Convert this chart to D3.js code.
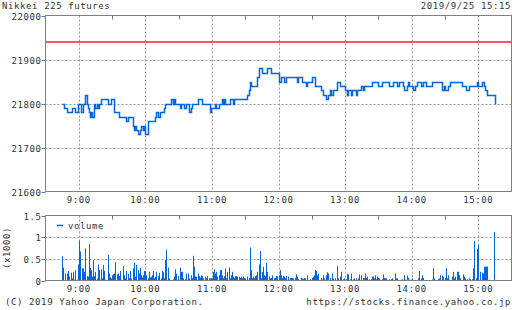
<!DOCTYPE html>
<html>
<head>
<meta charset="utf-8">
<script src="https://cdn.jsdelivr.net/npm/d3@7"></script>
<style>
  body { margin: 0; background: #fff; }
  svg text { font-family: "DejaVu Sans Mono", "Liberation Mono", monospace; font-size: 9px; letter-spacing: 0.6px; fill: #333; }
</style>
</head>
<body>
<div class="canvas"></div>
<script>
// price change points (step line), 10-yen ticks
const priceTimes = ["8:45","8:47","8:49","8:54","8:57","8:59","9:02","9:04","9:06","9:07","9:08","9:09","9:10","9:11","9:12","9:14","9:15","9:16","9:17","9:18","9:20","9:26","9:29","9:32","9:36","9:43","9:44","9:49","9:50","9:51","9:52","9:53","9:55","9:56","9:58","9:59","10:00","10:02","10:09","10:10","10:11","10:13","10:17","10:18","10:23","10:25","10:26","10:27","10:31","10:32","10:35","10:37","10:39","10:41","10:42","10:47","10:51","10:58","10:59","11:03","11:04","11:06","11:09","11:10","11:11","11:12","11:16","11:19","11:20","11:32","11:33","11:34","11:35","11:41","11:42","11:45","11:50","11:53","12:00","12:02","12:05","12:07","12:17","12:18","12:21","12:25","12:26","12:30","12:33","12:38","12:40","12:43","12:45","12:46","12:47","12:49","12:53","12:55","13:00","13:02","13:03","13:05","13:06","13:10","13:11","13:14","13:16","13:17","13:24","13:30","13:33","13:40","13:43","13:47","13:49","13:52","13:53","13:56","13:57","13:58","14:01","14:03","14:05","14:08","14:10","14:13","14:18","14:27","14:29","14:30","14:33","14:35","14:45","14:49","14:52","14:59","15:00","15:03","15:05","15:06","15:08","15:15"];
const priceValues = [21800,21790,21780,21790,21780,21800,21780,21800,21820,21800,21790,21780,21770,21780,21770,21800,21790,21800,21790,21800,21810,21800,21810,21780,21770,21760,21770,21750,21740,21750,21740,21730,21740,21750,21740,21750,21730,21760,21770,21780,21770,21780,21790,21800,21810,21800,21810,21800,21790,21800,21790,21800,21780,21790,21800,21810,21800,21780,21790,21800,21790,21800,21810,21800,21810,21800,21810,21800,21810,21820,21830,21850,21840,21860,21880,21870,21880,21870,21850,21860,21850,21860,21850,21860,21850,21840,21850,21860,21840,21830,21820,21810,21820,21830,21820,21830,21850,21840,21830,21820,21830,21820,21830,21820,21830,21840,21830,21840,21850,21840,21850,21840,21850,21840,21850,21840,21830,21840,21850,21840,21830,21840,21850,21840,21850,21840,21850,21830,21840,21830,21840,21850,21840,21830,21840,21850,21840,21850,21840,21830,21820,21800];
const prevClose = 21940;

// volume per minute (minutes after 8:45 open), in thousands
const volMinutes = [0,1,3,4,5,6,8,9,10,11,12,13,14,15,16,18,19,20,21,22,23,24,25,26,27,28,29,30,31,32,33,34,35,36,37,38,39,41,42,43,44,45,46,47,48,49,50,51,52,53,55,56,57,58,59,60,61,62,64,65,66,67,68,69,70,71,72,73,74,75,76,77,78,79,80,81,82,83,84,85,86,87,89,90,91,92,93,94,95,96,97,100,101,102,103,104,106,107,108,109,110,111,112,113,114,116,117,118,119,120,121,122,123,124,125,126,127,129,130,131,132,133,134,135,136,137,138,139,140,141,142,143,144,145,146,147,148,149,150,151,152,153,154,155,156,157,158,159,160,161,162,163,164,165,167,168,169,170,171,172,173,174,175,176,177,178,179,180,181,182,183,184,185,186,187,188,189,
  191,192,193,194,195,196,197,198,199,200,201,202,204,205,206,207,208,210,211,212,213,215,216,217,218,219,221,223,225,226,227,228,229,230,231,233,234,235,236,238,239,240,241,243,244,245,246,248,249,250,251,253,254,256,257,258,259,260,262,263,265,266,267,268,269,271,272,273,274,275,277,278,279,280,281,282,283,284,285,286,288,289,290,291,292,294,295,296,297,298,300,301,302,303,305,306,307,308,309,310,311,312,313,314,315,317,318,319,321,322,323,324,325,327,328,330,331,332,333,334,335,336,337,339,340,341,342,343,345,346,347,348,349,351,352,353,354,356,357,358,359,361,362,363,364,365,367,368,369,370,371,373,374,375,377,378,379,380,381,382,383,385,386,387,389];
const volValues = [0.56,0.30,0.16,0.16,0.22,0.09,0.18,0.05,0.20,0.02,0.24,0.02,0.37,0.92,0.67,0.28,0.28,0.20,0.74,0.10,0.09,0.84,0.29,0.24,0.09,0.47,0.10,0.20,0.05,0.37,0.24,0.02,0.26,0.05,0.36,0.22,0.02,0.59,0.16,0.07,0.05,0.12,0.15,0.16,0.42,0.14,0.16,0.10,0.22,0.02,0.33,0.12,0.05,0.22,0.15,0.05,0.22,0.05,0.28,0.41,0.09,0.36,0.24,0.16,0.29,0.12,0.07,0.12,0.22,0.22,0.12,0.05,0.20,0.07,0.09,0.12,0.22,0.05,0.09,0.20,0.10,0.18,0.05,0.22,0.19,0.05,0.47,0.71,0.30,0.05,0.01,0.03,0.09,0.26,0.16,0.10,0.30,0.20,0.20,0.05,0.01,0.03,0.16,0.16,0.05,0.12,0.05,0.57,0.32,0.09,0.09,0.16,0.10,0.07,0.12,0.10,0.05,0.09,0.05,0.10,0.05,0.05,0.05,0.05,0.20,0.26,0.16,0.20,0.09,0.12,0.24,0.24,0.12,0.05,0.10,0.28,0.05,0.20,0.30,0.05,0.12,0.20,0.09,0.06,0.10,0.10,0.09,0.09,0.06,0.09,0.05,0.09,0.06,0.05,0.09,0.06,0.76,0.24,0.05,0.09,0.05,0.10,0.12,0.20,0.37,0.68,0.05,0.20,0.32,0.12,0.10,0.41,0.20,0.09,0.05,0.06,0.12,
  0.05,0.06,0.10,0.10,0.12,0.24,0.12,0.05,0.11,0.09,0.05,0.11,0.09,0.06,0.06,0.06,0.05,0.06,0.14,0.09,0.03,0.06,0.05,0.03,0.06,0.05,0.12,0.03,0.06,0.09,0.12,0.24,0.22,0.12,0.16,0.06,0.02,0.12,0.05,0.12,0.19,0.16,0.06,0.16,0.05,0.01,0.05,0.33,0.05,0.09,0.20,0.03,0.05,0.03,0.16,0.14,0.03,0.16,0.03,0.05,0.05,0.01,0.05,0.14,0.12,0.06,0.05,0.16,0.06,0.09,0.03,0.03,0.09,0.09,0.05,0.12,0.03,0.09,0.06,0.05,0.03,0.14,0.06,0.05,0.05,0.01,0.03,0.03,0.05,0.02,0.16,0.05,0.05,0.01,0.02,0.03,0.01,0.12,0.02,0.01,0.11,0.06,0.02,0.02,0.05,0.01,0.01,0.01,0.05,0.22,0.05,0.12,0.06,0.01,0.01,0.01,0.01,0.01,0.02,0.28,0.05,0.01,0.01,0.03,0.05,0.12,0.11,0.09,0.06,0.28,0.05,0.12,0.02,0.09,0.20,0.05,0.09,0.20,0.20,0.12,0.05,0.14,0.09,0.05,0.01,0.03,0.05,0.03,0.03,0.28,0.91,0.05,0.73,0.82,0.20,0.18,0.16,0.32,0.32,0.32,0.32,0.02,0.01,0.01,1.12];

const priceTicks = [21600, 21700, 21800, 21900, 22000];
const volTicks = [0, 0.5, 1, 1.5];
const volTickLabels = ["0", "0.5", "1", "1.5"];

const width = 512, height = 310;
const left = 45.5, right = 511.5;
const main = { top: 15.5, bottom: 191.5 };
const vol = { top: 215.5, bottom: 280.5 };
const blue = "#0066dd";

const svg = d3.select(".canvas").append("svg")
  .attr("width", width).attr("height", height);

const parseTime = d3.timeParse("%H:%M");
const open = parseTime("8:45");

const x = d3.scaleTime()
  .domain([parseTime("8:30"), parseTime("15:30")])
  .range([left, right]);
const y = d3.scaleLinear().domain([21600, 22000]).range([main.bottom, main.top]);
const yv = d3.scaleLinear().domain([0, 1.5]).range([vol.bottom, vol.top]);

const hours = d3.range(9, 16).map((h) => parseTime(h + ":00"));
const halves = d3.range(8, 16).map((h) => parseTime(h + ":30")).filter((d) => d > x.domain()[0] && d < x.domain()[1]);
const fmt = d3.timeFormat("%-H:%M");

function panel(top, bottom, yScale, ticks, labels, grid) {
  const g = svg.append("g");
  // dashed grid
  g.selectAll(".vg").data(hours).join("line")
    .attr("x1", (d) => Math.round(x(d)) + 0.5).attr("x2", (d) => Math.round(x(d)) + 0.5)
    .attr("y1", top).attr("y2", bottom)
    .attr("stroke", "#999").attr("stroke-dasharray", "2,2");
  g.selectAll(".hg").data(grid).join("line")
    .attr("x1", left).attr("x2", right)
    .attr("y1", (d) => Math.round(yScale(d)) + 0.5).attr("y2", (d) => Math.round(yScale(d)) + 0.5)
    .attr("stroke", "#999").attr("stroke-dasharray", "2,2");
  // half-hour ticks at top
  g.selectAll(".ht").data(halves).join("line")
    .attr("x1", (d) => Math.round(x(d)) + 0.5).attr("x2", (d) => Math.round(x(d)) + 0.5)
    .attr("y1", top).attr("y2", top + 4)
    .attr("stroke", "#777");
  // y ticks + labels
  g.selectAll(".yt").data(ticks).join("line")
    .attr("x1", left - 4).attr("x2", left)
    .attr("y1", (d) => Math.round(yScale(d)) + 0.5).attr("y2", (d) => Math.round(yScale(d)) + 0.5)
    .attr("stroke", "#777");
  g.selectAll(".yl").data(ticks).join("text")
    .attr("x", left - 4).attr("y", (d) => yScale(d) + 4)
    .attr("text-anchor", "end")
    .text((d, i) => labels[i]);
  // x labels
  g.selectAll(".xl").data(hours).join("text")
    .attr("x", (d) => x(d)).attr("y", bottom + 11.5)
    .attr("text-anchor", "middle")
    .text((d) => fmt(d));
  return g;
}

panel(main.top, main.bottom, y, priceTicks, priceTicks.map(String), [21700, 21800, 21900]);
panel(vol.top, vol.bottom, yv, volTicks, volTickLabels, [0.5, 1]);

// previous close line
svg.append("line")
  .attr("x1", left).attr("x2", right)
  .attr("y1", y(prevClose)).attr("y2", y(prevClose))
  .attr("stroke", "#e8262c").attr("stroke-width", 1.5);

// price step line
const priceData = priceTimes.map((t, i) => ({ date: parseTime(t), price: priceValues[i] }));
const line = d3.line()
  .x((d) => Math.round(x(d.date)) + 0.5)
  .y((d) => Math.round(y(d.price)) + 0.5)
  .curve(d3.curveStepAfter);
svg.append("path")
  .datum(priceData)
  .attr("d", line)
  .attr("fill", "none")
  .attr("stroke", blue)
  .attr("stroke-width", 1.5);

// volume bars
const volData = volMinutes.map((m, i) => ({ date: d3.timeMinute.offset(open, m), v: volValues[i] }));
svg.append("g").selectAll("rect").data(volData).join("rect")
  .attr("x", (d) => Math.round(x(d.date)))
  .attr("width", 1)
  .attr("y", (d) => yv(d.v))
  .attr("height", (d) => yv(0) - yv(d.v))
  .attr("fill", blue);

// frames
[main, vol].forEach((p) => {
  svg.append("rect")
    .attr("x", left).attr("y", p.top)
    .attr("width", right - left).attr("height", p.bottom - p.top)
    .attr("fill", "none").attr("stroke", "#808080");
});

// legend
svg.append("line").attr("x1", 57).attr("x2", 63).attr("y1", 225.5).attr("y2", 225.5)
  .attr("stroke", blue).attr("stroke-width", 1.5);
svg.append("text").attr("x", 68).attr("y", 229).text("volume");

// y label for volume
svg.append("text")
  .attr("transform", "translate(10,248) rotate(-90)")
  .attr("text-anchor", "middle")
  .text("(x1000)");

// titles
svg.append("text").attr("x", 2).attr("y", 9).text("Nikkei 225 futures");
svg.append("text").attr("x", 511).attr("y", 9).attr("text-anchor", "end").text("2019/9/25 15:15");
svg.append("text").attr("x", 5).attr("y", 305).text("(C) 2019 Yahoo Japan Corporation.");
svg.append("text").attr("x", 511).attr("y", 305).attr("text-anchor", "end").text("https://stocks.finance.yahoo.co.jp");
</script>
</body>
</html>
